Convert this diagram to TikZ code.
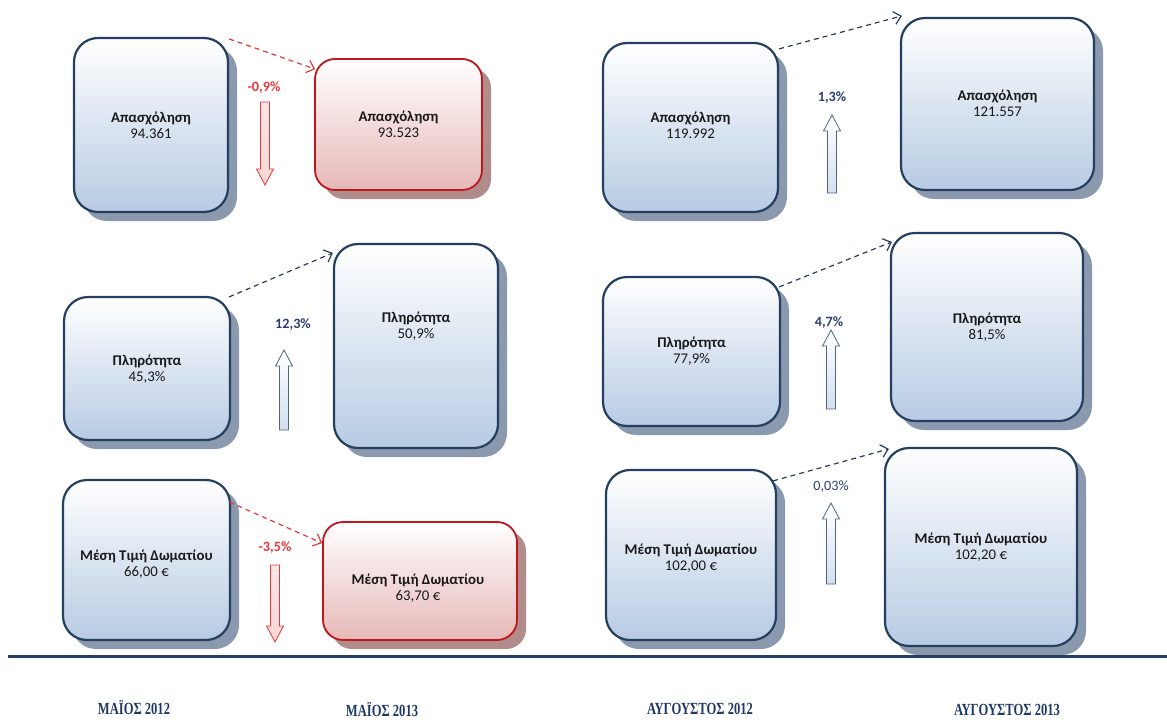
\documentclass[tikz,border=0pt]{standalone}
\usepackage{fontspec}
\setmainfont{Carlito}
\newfontfamily\capfont[FakeStretch=0.74]{Liberation Serif}
\usetikzlibrary{shadows,arrows.meta,calc}
\definecolor{navy}{HTML}{243F60}
\definecolor{boxblue}{HTML}{B7CBE3}
\definecolor{shblue}{HTML}{8A99AE}
\definecolor{boxred}{HTML}{E6B8B7}
\definecolor{redline}{HTML}{C0161E}
\definecolor{shred}{HTML}{B08C8B}
\definecolor{dashred}{HTML}{E23A3A}
\definecolor{pctred}{HTML}{E8363A}
\definecolor{pctblue}{HTML}{2A3F6E}
\definecolor{arrblue}{HTML}{D6E2F0}
\definecolor{arrred}{HTML}{F6D6D5}
\definecolor{labnavy}{HTML}{1F3864}
\tikzset{
  bluebox/.style={draw=navy, line width=2.2pt, rounded corners=24pt,
    top color=white, bottom color=boxblue,
    drop shadow={shadow xshift=9pt, shadow yshift=-9pt, fill=shblue, opacity=1}},
  redbox/.style={draw=redline, line width=1.8pt, rounded corners=20pt,
    top color=white, bottom color=boxred,
    drop shadow={shadow xshift=9pt, shadow yshift=-9pt, fill=shred, opacity=1}},
  boxtext/.style={align=center, font=\fontsize{14.8}{16}\selectfont, text=black!90},
  pctlbl/.style={font=\fontsize{14.2}{16}\selectfont\bfseries},
  dashblue/.style={draw=navy, line width=1.2pt, dash pattern=on 5pt off 4pt, -{Straight Barb[length=7pt,width=13pt]}},
  dashredst/.style={draw=dashred, line width=1.2pt, dash pattern=on 5pt off 4pt, -{Straight Barb[length=7pt,width=13pt]}},
  uparr/.style={draw=navy!80, line width=0.8pt, top color=white, bottom color=arrblue!90!boxblue},
  downarr/.style={draw=pctred, line width=0.8pt, top color=arrred!60, bottom color=arrred},
  periodlbl/.style={font=\capfont\bfseries\fontsize{17}{20}\selectfont, text=labnavy},
}
\newcommand{\blkup}[3]{% x, ybottom, ytop
  \path[uparr] (#1-4.5,#2) -- (#1-4.5,#3+16) -- (#1-8.5,#3+16) -- (#1,#3) -- (#1+8.5,#3+16) -- (#1+4.5,#3+16) -- (#1+4.5,#2) -- cycle;}
\newcommand{\blkdown}[3]{% x, ytop, ybottom
  \path[downarr] (#1-4.5,#2) -- (#1-4.5,#3-16) -- (#1-8.5,#3-16) -- (#1,#3) -- (#1+8.5,#3-16) -- (#1+4.5,#3-16) -- (#1+4.5,#2) -- cycle;}
\begin{document}
\begin{tikzpicture}[x=1pt,y=-1pt]
\useasboundingbox (0,0) rectangle (1167,720);
% boxes
\node[bluebox, minimum width=154pt, minimum height=174pt] (a1) at (151,125) {};
\node[redbox,  minimum width=167pt, minimum height=131pt] (a2) at (398.5,124.5) {};
\node[bluebox, minimum width=166pt, minimum height=143pt] (p1) at (147,368.5) {};
\node[bluebox, minimum width=164pt, minimum height=204pt] (p2) at (416,346) {};
\node[bluebox, minimum width=167pt, minimum height=160pt] (m1) at (146.5,560) {};
\node[redbox,  minimum width=194pt, minimum height=118pt] (m2) at (420,581) {};
\node[bluebox, minimum width=175pt, minimum height=169pt] (a3) at (690.5,127.5) {};
\node[bluebox, minimum width=193pt, minimum height=172pt] (a4) at (997.5,104) {};
\node[bluebox, minimum width=177pt, minimum height=149pt] (p3) at (691.5,351.5) {};
\node[bluebox, minimum width=192pt, minimum height=188pt] (p4) at (987,327) {};
\node[bluebox, minimum width=170pt, minimum height=170pt] (m3) at (691,555) {};
\node[bluebox, minimum width=192pt, minimum height=198pt] (m4) at (981,547) {};
% texts
\node[boxtext] (a1t) at (151,125) {\textbf{Απασχόληση}\\94.361};
\node[boxtext] (a2t) at (398.5,124.5) {\textbf{Απασχόληση}\\93.523};
\node[boxtext] (p1t) at (147,369) {\textbf{Πληρότητα}\\45,3\%};
\node[boxtext] (p2t) at (416,326.5) {\textbf{Πληρότητα}\\50,9\%};
\node[boxtext] (m1t) at (146.5,564) {\textbf{Μέση Τιμή Δωματίου}\\66,00 €};
\node[boxtext] (m2t) at (418,588.5) {\textbf{Μέση Τιμή Δωματίου}\\63,70 €};
\node[boxtext] (a3t) at (690.5,125.5) {\textbf{Απασχόληση}\\119.992};
\node[boxtext] (a4t) at (997.5,103.5) {\textbf{Απασχόληση}\\121.557};
\node[boxtext] (p3t) at (691.5,351.5) {\textbf{Πληρότητα}\\77,9\%};
\node[boxtext] (p4t) at (987,327.5) {\textbf{Πληρότητα}\\81,5\%};
\node[boxtext] (m3t) at (691,558) {\textbf{Μέση Τιμή Δωματίου}\\102,00 €};
\node[boxtext] (m4t) at (981,547) {\textbf{Μέση Τιμή Δωματίου}\\102,20 €};
% percentage labels
\node[pctlbl, text=pctred] (c1) at (264,88) {-0,9\%};
\node[pctlbl, text=pctblue] (c2) at (293,325) {12,3\%};
\node[pctlbl, text=pctred] (c3) at (275,548) {-3,5\%};
\node[pctlbl, text=pctblue] (c4) at (832,98) {1,3\%};
\node[pctlbl, text=pctblue] (c5) at (829,323) {4,7\%};
\node[pctlbl, text=pctblue, font=\fontsize{14.2}{16}\selectfont] (c6) at (831,487) {0,03\%};
% block arrows
\blkdown{265}{102}{185}
\blkup{284}{430}{350}
\blkdown{275}{565}{642}
\blkup{832}{193}{115}
\blkup{831}{409}{330}
\blkup{831}{584}{503}
% dashed connectors
\draw[dashredst] ($(a1.north east)+(0,2)$) -- ($(a2.north west)+(1,11)$);
\draw[dashblue] ($(p1.north east)+(-2,1)$) -- ($(p2.north west)+(0,10)$);
\draw[dashredst] ($(m1.north east)+(-2,23)$) -- ($(m2.north west)+(0,22)$);
\draw[dashblue] ($(a3.north east)+(0,7)$) -- ($(a4.north west)+(2,-1)$);
\draw[dashblue] ($(p3.north east)+(-2,11)$) -- ($(p4.north west)+(2,10)$);
\draw[dashblue] ($(m3.north east)+(-4,12)$) -- ($(m4.north west)+(5,2)$);
% baseline
\coordinate (bl) at (8,656);
\coordinate (br) at (1167,656);
\draw[navy, line width=3pt] (bl) -- (br);
% period labels
\node[periodlbl] (l1) at (134,708) {ΜΑΪΟΣ 2012};
\node[periodlbl] (l2) at (382,710) {ΜΑΪΟΣ 2013};
\node[periodlbl] (l3) at (700,709) {ΑΥΓΟΥΣΤΟΣ 2012};
\node[periodlbl] (l4) at (1007,710) {ΑΥΓΟΥΣΤΟΣ 2013};
\end{tikzpicture}
\end{document}
